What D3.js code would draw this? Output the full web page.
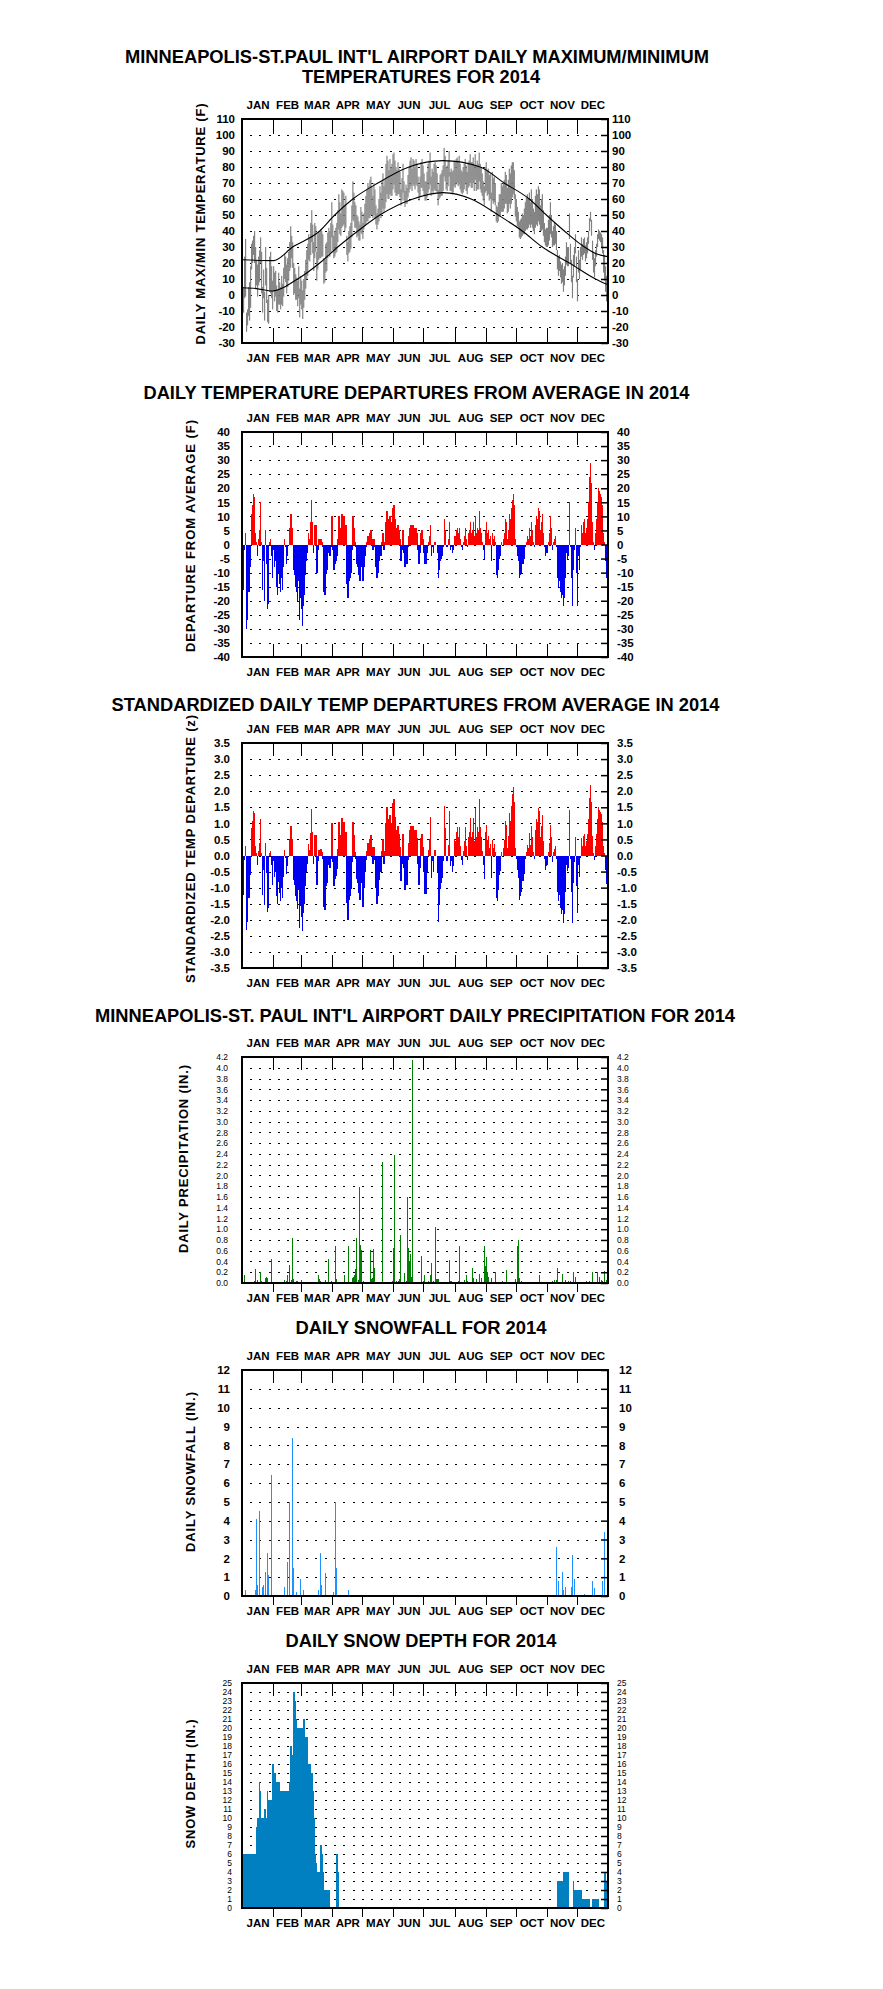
<!DOCTYPE html>
<html><head><meta charset="utf-8">
<script src="https://cdn.jsdelivr.net/npm/d3@7"></script>
<style>
body{margin:0;background:#fff;}
svg text{font-family:"Liberation Sans",Arial,Helvetica,sans-serif;}
</style></head><body>
<svg id="chart" width="883" height="1989" style="background:#fff"></svg>
<script>
// ---------------- DATA ----------------
const months = ["JAN","FEB","MAR","APR","MAY","JUN","JUL","AUG","SEP","OCT","NOV","DEC"];
const monthStart = [0,31,59,90,120,151,181,212,243,273,304,334,365];

// daily maximum / minimum temperature (F)
const tmax = [
 2,5,24,35,-11,-9,5,8,18,32,34,37,40,30,22,19,24,28,36,27,5,16,2,30,17,-3,0,24,27,18,9,
 18,14,15,6,3,14,8,5,12,7,17,26,24,19,23,27,33,43,37,33,20,17,13,11,9,18,4,12,
 9,3,10,15,22,28,32,38,35,45,53,44,33,45,43,27,38,40,39,41,40,38,23,22,32,33,39,42,40,45,58,
 44,37,40,42,45,53,63,58,51,66,65,64,56,62,37,33,40,43,45,56,71,64,58,56,50,49,46,44,55,52,
 45,51,57,62,66,70,68,72,74,68,62,70,66,56,51,54,60,68,64,71,76,68,72,82,87,84,78,85,80,82,88,
 89,84,80,78,83,79,77,66,73,82,71,65,69,67,75,80,84,86,79,85,84,80,85,82,74,69,74,83,85,81,
 76,71,71,77,82,84,89,74,79,77,82,83,81,76,66,70,75,76,78,81,92,87,80,81,84,90,77,79,77,78,84,
 83,85,86,84,87,82,78,77,80,82,85,81,77,83,84,88,83,83,86,81,88,81,84,82,89,82,80,76,71,68,80,
 83,78,79,75,76,64,77,73,74,70,56,55,58,63,63,70,68,70,72,77,75,67,72,79,76,81,83,83,78,63,
 60,55,52,46,47,48,51,50,54,58,61,63,60,64,58,66,60,54,52,62,66,63,68,66,56,60,63,53,45,41,42,
 42,47,50,58,50,40,43,45,44,40,28,24,25,21,19,20,16,18,24,33,30,30,51,32,22,12,25,30,38,24,
 10,28,22,30,36,32,35,36,31,33,36,40,48,52,47,34,26,23,28,32,38,41,40,39,38,36,28,25,18,12,4
];
const tmin = [
 -12,-11,-2,-1,-23,-19,-13,-16,-8,16,20,25,20,4,6,-1,6,8,20,1,-11,-2,-16,6,-5,-17,-18,2,1,-2,-9,
 2,-4,-1,-10,-11,-6,-6,-9,-6,-7,-1,10,8,1,5,9,15,17,23,17,0,1,-3,-3,-7,-2,-14,-6,
 -9,-15,-8,-3,4,10,12,22,21,25,33,26,15,23,27,9,16,22,23,23,24,24,7,8,14,15,23,26,24,27,36,
 28,23,24,26,27,33,41,38,37,42,43,44,40,42,25,21,26,27,29,36,47,46,42,42,36,37,34,34,39,38,
 35,41,43,44,46,46,48,48,50,50,48,50,48,44,41,44,46,50,48,51,54,52,54,58,63,60,60,63,62,62,66,
 69,64,62,62,63,63,61,56,59,64,59,55,57,57,61,64,66,68,65,69,68,66,69,68,64,59,62,67,67,65,
 62,59,59,61,64,66,69,62,65,63,66,65,65,64,56,60,61,62,62,65,74,71,66,65,68,74,65,65,63,64,68,
 67,69,70,68,69,66,64,63,64,66,69,65,63,67,68,70,67,67,70,65,72,65,66,66,71,66,64,62,59,56,64,
 65,62,63,59,60,52,59,57,58,56,46,45,46,49,49,52,52,52,54,57,57,51,52,57,54,57,61,63,60,49,
 46,43,42,36,35,36,37,38,38,40,41,41,42,44,42,44,42,40,38,42,44,43,46,44,40,40,41,37,33,31,30,
 30,31,34,38,36,30,31,31,32,28,16,12,15,11,7,8,2,6,12,19,18,18,35,20,8,-2,11,18,26,8,
 -4,14,10,16,24,22,25,26,21,23,26,32,40,46,37,22,14,11,18,24,30,35,34,33,30,26,14,9,2,-4,-8
];
// normal max / min curves, read as (day, value) points
const normMaxDay = [0,31,50,77,92,110,135,166,200,237,261,286,303,321,341,352,364];
const normMaxVal = [22,21.5,30,40,50,60,70,80,84,80,70,60,50,40,30,26,24];
const normMinDay = [0,14,30,55,77,95,115,137,170,200,228,255,279,299,326,352,364];
const normMinVal = [4.5,4,2.5,10,20,30,40,50,60,64,60,50,40,30,20,10,6.5];

// daily departure from average (F)
const departure = [
 -18,-16,-2,4,-30,-27,-17,-17,-8,11,14,18,17,4,1,-4,2,5,15,1,-16,-6,-20,5,-7,-23,-21,1,2,-4,-12,
 -2,-8,-6,-15,-18,-10,-14,-17,-12,-16,-8,2,-1,-7,-4,0,6,11,11,6,-9,-11,-15,-17,-20,-13,-27,-19,
 -23,-29,-22,-18,-11,-6,-3,4,2,8,16,8,-3,7,7,-10,-2,2,2,2,1,-1,-17,-18,-10,-9,-3,-1,-4,-1,10,
 -2,-9,-7,-6,-4,2,10,6,1,11,10,10,3,7,-14,-19,-13,-12,-10,-2,10,6,1,-1,-7,-8,-11,-13,-5,-8,
 -13,-8,-4,-1,1,3,2,4,5,2,-2,2,-1,-8,-12,-10,-6,-1,-4,1,4,-2,1,8,12,9,5,10,6,8,13,
 14,9,6,4,7,5,2,-6,-2,5,-3,-8,-5,-7,-1,3,6,7,2,7,6,3,6,4,-2,-7,-3,4,5,2,
 -3,-7,-7,-3,1,3,7,-4,-1,-3,1,1,0,-3,-12,-9,-6,-5,-4,-1,9,5,-1,-1,2,8,-2,-1,-3,-2,3,
 3,5,6,4,6,2,-1,-2,1,3,6,2,-1,4,5,8,4,5,8,3,10,4,6,5,12,6,4,1,-2,-5,5,
 8,4,5,2,3,-6,4,2,3,1,-11,-12,-9,-5,-4,1,0,2,4,9,8,2,5,11,9,13,16,18,14,2,
 -1,-4,-6,-12,-11,-10,-7,-7,-5,-1,1,3,2,6,3,8,5,1,-1,7,10,9,13,12,5,8,11,4,-1,-4,-3,
 -3,1,4,10,6,-2,1,2,3,-1,-12,-15,-13,-17,-19,-18,-22,-19,-12,-3,-5,-4,15,-1,-12,-22,-9,-2,6,-10,
 -22,-4,-9,-1,7,4,8,9,4,6,9,15,24,29,22,8,1,-2,4,9,15,20,19,18,17,14,4,1,-6,-12,-17
];
// standardized daily departure (z)
const zDeparture = [
 -1.38,-1.23,-0.15,0.31,-2.31,-2.08,-1.31,-1.31,-0.62,0.85,1.08,1.38,1.31,0.31,0.08,-0.31,0.15,0.38,1.15,0.08,-1.23,-0.46,-1.54,0.38,-0.54,-1.77,-1.62,0.08,0.15,-0.31,-0.92,
 -0.17,-0.67,-0.5,-1.25,-1.5,-0.83,-1.17,-1.42,-1.0,-1.33,-0.67,0.17,-0.08,-0.58,-0.33,0,0.5,0.92,0.92,0.5,-0.75,-0.92,-1.25,-1.42,-1.67,-1.08,-2.25,-1.58,
 -1.9,-2.36,-1.8,-1.5,-0.95,-0.52,-0.26,0.35,0.18,0.7,1.45,0.73,-0.27,0.64,0.64,-0.91,-0.18,0.18,0.18,0.19,0.1,-0.1,-1.6,-1.7,-0.95,-0.86,-0.29,-0.1,-0.4,-0.1,1.0,
 -0.21,-0.95,-0.74,-0.63,-0.42,0.21,1.05,0.63,0.11,1.16,1.05,1.05,0.32,0.74,-1.47,-2.0,-1.37,-1.26,-1.05,-0.21,1.05,0.63,0.11,-0.11,-0.74,-0.84,-1.16,-1.37,-0.53,-0.84,
 -1.6,-1.0,-0.5,-0.13,0.13,0.38,0.25,0.5,0.63,0.25,-0.25,0.25,-0.13,-1.0,-1.5,-1.25,-0.75,-0.13,-0.5,0.13,0.5,-0.25,0.13,1.0,1.5,1.13,0.63,1.25,0.75,1.0,1.63,
 1.75,1.2,0.8,0.53,0.93,0.67,0.27,-0.8,-0.27,0.67,-0.4,-1.07,-0.67,-0.93,-0.13,0.4,0.8,0.93,0.27,0.93,0.8,0.4,0.8,0.53,-0.27,-0.93,-0.4,0.53,0.67,0.27,
 -0.52,-1.2,-1.2,-0.52,0.17,0.52,1.2,-0.69,-0.17,-0.52,0.17,0.17,0,-0.52,-2.07,-1.55,-1.03,-0.86,-0.69,-0.17,1.55,0.86,-0.17,-0.17,0.34,1.38,-0.34,-0.17,-0.52,-0.34,0.52,
 0.44,0.74,0.88,0.59,0.88,0.29,-0.15,-0.29,0.15,0.44,0.88,0.29,-0.15,0.59,0.74,1.18,0.59,0.74,1.18,0.44,1.47,0.59,0.88,0.74,1.76,0.88,0.59,0.15,-0.29,-0.74,0.74,
 0.95,0.48,0.6,0.24,0.36,-0.71,0.48,0.24,0.36,0.12,-1.31,-1.43,-1.07,-0.6,-0.48,0.12,0,0.24,0.48,1.07,0.95,0.24,0.6,1.31,1.07,1.55,1.9,2.14,1.67,0.24,
 -0.11,-0.46,-0.69,-1.38,-1.26,-1.15,-0.8,-0.8,-0.57,-0.11,0.11,0.34,0.23,0.69,0.34,0.92,0.57,0.11,-0.11,0.8,1.15,1.03,1.49,1.38,0.57,0.92,1.26,0.46,-0.11,-0.46,-0.34,
 -0.29,0.1,0.38,0.95,0.57,-0.19,0.1,0.19,0.29,-0.1,-1.14,-1.43,-1.24,-1.62,-1.81,-1.71,-2.1,-1.81,-1.14,-0.29,-0.48,-0.38,1.43,-0.1,-1.14,-2.1,-0.86,-0.19,0.57,-0.95,
 -1.8,-0.3,-0.68,-0.08,0.53,0.3,0.6,0.68,0.3,0.45,0.68,1.13,1.8,2.18,1.65,0.6,0.08,-0.15,0.3,0.68,1.13,1.5,1.43,1.35,1.28,1.05,0.3,0.08,-0.45,-0.9,-1.28
];
// daily precipitation (in.), days with a measurable or trace amount
const precipDay = [2,3,5,7,10,12,13,15,16,18,19,20,23,24,25,27,29,34,36,39,42,44,45,47,49,50,51,54,55,57,59,61,65,68,72,76,77,78,80,83,86,89,93,94,98,102,106,110,111,112,113,114,116,117,118,119,121,126,128,129,130,131,132,140,147,150,151,152,154,156,157,158,162,164,165,166,167,168,169,170,173,179,181,182,183,185,187,188,190,192,193,194,195,206,207,208,215,216,221,223,224,229,230,233,236,238,241,242,243,244,245,248,252,259,263,272,274,275,276,278,296,307,309,311,313,314,317,319,322,325,327,330,332,336,343,346,349,352,354,356,358,359,361,363];
const precipIn = [0.14,0.02,0.02,0.01,0.02,0.04,0.26,0.06,0.02,0.2,0.03,0.02,0.1,0.11,0.1,0.01,0.45,0.01,0.02,0.01,0.05,0.03,0.14,0.33,0.06,0.84,0.08,0.03,0.03,0.02,0.06,0.02,0.01,0.02,0.01,0.15,0.08,0.04,0.02,0.06,0.45,0.03,0.69,0.08,0.02,0.15,0.69,0.09,0.12,0.15,0.26,0.84,0.05,1.78,0.71,0.62,0.04,0.02,0.62,0.08,0.1,0.63,0.28,2.25,0.02,0.03,0.65,2.38,0.03,0.04,0.08,0.9,0.19,0.03,1.6,0.65,0.4,0.53,0.12,4.14,0.01,0.51,0.03,0.15,0.02,0.03,0.14,0.38,0.03,1.05,0.07,0.07,0.07,0.43,0.04,0.04,0.03,0.68,0.05,0.15,0.04,0.28,0.1,0.08,0.17,0.1,0.69,0.31,0.48,0.2,0.12,0.1,0.2,0.03,0.25,0.08,0.69,0.8,0.1,0.03,0.15,0.02,0.04,0.05,0.05,0.28,0.02,0.17,0.06,0.04,0.03,0.2,0.11,0.01,0.03,0.03,0.2,0.02,0.2,0.12,0.05,0.04,0.22,0.05];
// daily snowfall (in.)
const snowDay = [3,4,5,13,14,15,17,20,21,23,25,26,29,37,42,45,47,50,51,54,58,60,61,76,78,79,83,91,93,94,106,119,300,313,315,319,320,322,328,329,331,341,349,351,354,359,361];
const snowIn = [0.3,0.05,0.05,0.3,4.1,0.6,4.5,0.5,0.6,1.3,2.3,1.1,6.4,0.05,0.5,1.8,5.0,8.4,1.5,0.2,0.9,0.05,0.3,0.3,2.3,0.6,1.2,0.2,5.0,1.5,0.3,0.05,0.05,2.6,0.8,1.3,0.3,0.5,0.5,2.2,0.9,0.1,0.8,0.4,0.05,0.8,3.4];
// daily snow depth (in.)
const snowDepth = [
 6,6,6,6,6,6,6,6,6,6,6,6,6,6,9,10,10,14,13,10,10,10,11,11,10,13,12,12,12,12,16,
 16,15,15,14,14,14,13,13,13,13,13,13,13,13,13,13,14,18,17,16,24,23,21,20,20,20,20,20,
 20,20,21,19,19,19,16,16,16,15,15,13,10,6,5,4,4,4,4,7,6,4,2,2,2,2,2,2,0,0,0,
 0,0,0,0,6,4,0,0,0,0,0,0,0,0,0,0,0,0,0,0,0,0,0,0,0,0,0,0,0,0,
 0,0,0,0,0,0,0,0,0,0,0,0,0,0,0,0,0,0,0,0,0,0,0,0,0,0,0,0,0,0,0,
 0,0,0,0,0,0,0,0,0,0,0,0,0,0,0,0,0,0,0,0,0,0,0,0,0,0,0,0,0,0,
 0,0,0,0,0,0,0,0,0,0,0,0,0,0,0,0,0,0,0,0,0,0,0,0,0,0,0,0,0,0,0,
 0,0,0,0,0,0,0,0,0,0,0,0,0,0,0,0,0,0,0,0,0,0,0,0,0,0,0,0,0,0,0,
 0,0,0,0,0,0,0,0,0,0,0,0,0,0,0,0,0,0,0,0,0,0,0,0,0,0,0,0,0,0,
 0,0,0,0,0,0,0,0,0,0,0,0,0,0,0,0,0,0,0,0,0,0,0,0,0,0,0,0,0,0,0,
 0,0,0,0,0,0,0,0,0,0,3,3,3,3,3,3,4,4,4,4,4,4,0,0,0,0,3,2,2,2,
 2,2,2,2,2,1,1,1,1,1,1,1,1,0,0,1,1,1,1,1,1,1,0,0,0,0,0,4,4,3,3
];
// tick labels
const tempTicks = [-30,-20,-10,0,10,20,30,40,50,60,70,80,90,100,110];
const depTicks = [-40,-35,-30,-25,-20,-15,-10,-5,0,5,10,15,20,25,30,35,40];
const zTicks = [-3.5,-3.0,-2.5,-2.0,-1.5,-1.0,-0.5,0,0.5,1.0,1.5,2.0,2.5,3.0,3.5];
const precipTicks = [0,0.2,0.4,0.6,0.8,1.0,1.2,1.4,1.6,1.8,2.0,2.2,2.4,2.6,2.8,3.0,3.2,3.4,3.6,3.8,4.0,4.2];
const snowTicks = [0,1,2,3,4,5,6,7,8,9,10,11,12];
const depthTicks = [0,1,2,3,4,5,6,7,8,9,10,11,12,13,14,15,16,17,18,19,20,21,22,23,24,25];

// ---------------- DRAWING ----------------
const svg = d3.select("#chart");
const L = 242, R = 608;
const x = d3.scaleLinear().domain([0, 365]).range([L, R]);
const dayW = x(1) - x(0);
const monthMid = months.map((m, i) => (monthStart[i] + monthStart[i + 1]) / 2);
const FONT = '"Liberation Sans", Arial, Helvetica, sans-serif';

[["tmax",tmax],["tmin",tmin],["departure",departure],["z",zDeparture],["depth",snowDepth]].forEach(([n,a],i)=>{
  if (a.length !== 365) svg.append("text").attr("x",10).attr("y",20+14*i).attr("fill","red").text(n+" length "+a.length);
});

const titles = [
  {text:"MINNEAPOLIS-ST.PAUL INT'L AIRPORT DAILY MAXIMUM/MINIMUM", x:125, y:63, w:584},
  {text:"TEMPERATURES FOR 2014", x:302, y:83, w:238},
  {text:"DAILY TEMPERATURE DEPARTURES FROM AVERAGE IN 2014", x:143.5, y:399, w:546},
  {text:"STANDARDIZED DAILY TEMP DEPARTURES FROM AVERAGE IN 2014", x:111.5, y:711, w:608},
  {text:"MINNEAPOLIS-ST. PAUL INT'L AIRPORT DAILY PRECIPITATION FOR 2014", x:95, y:1022, w:640},
  {text:"DAILY SNOWFALL FOR 2014", x:295.5, y:1334, w:251},
  {text:"DAILY SNOW DEPTH FOR 2014", x:285.5, y:1647, w:271}
];
titles.forEach(t => svg.append("text").attr("x", t.x).attr("y", t.y)
  .attr("font-size", 18).attr("font-weight", "bold").attr("fill", "#000")
  .attr("textLength", t.w).attr("lengthAdjust", "spacingAndGlyphs").text(t.text));

const fmtInt = t => String(t);
const fmt1 = t => t.toFixed(1);

const panels = [
  {top:119, bottom:343, domain:[-30,110], ticks:tempTicks, fmt:fmtInt, small:false, tickLen:15, outside:false, lpad:7, rpad:4,
   ytitle:"DAILY MAX/MIN TEMPERATURE (F)", yx:200, yc:224, yl:241, draw:drawTemp},
  {top:432, bottom:657, domain:[-40,40], ticks:depTicks, fmt:fmtInt, small:false, tickLen:13, outside:false, lpad:12, rpad:9,
   ytitle:"DEPARTURE FROM AVERAGE (F)", yx:190, yc:536, yl:232, draw:(g,y)=>drawDep(g,y,departure)},
  {top:743, bottom:968, domain:[-3.5,3.5], ticks:zTicks, fmt:fmt1, small:false, tickLen:13, outside:false, lpad:12, rpad:9,
   ytitle:"STANDARDIZED TEMP DEPARTURE (z)", yx:190, yc:849, yl:268, draw:(g,y)=>drawDep(g,y,zDeparture)},
  {top:1057, bottom:1283, domain:[0,4.2], ticks:precipTicks, fmt:fmt1, small:true, tickLen:13, outside:true, lpad:14, rpad:9,
   ytitle:"DAILY PRECIPITATION (IN.)", yx:183, yc:1159, yl:188, draw:(g,y)=>drawSpikes(g,y,precipDay,precipIn,"#008000")},
  {top:1370, bottom:1596, domain:[0,12], ticks:snowTicks, fmt:fmtInt, small:false, tickLen:13, outside:true, lpad:12, rpad:11,
   ytitle:"DAILY SNOWFALL (IN.)", yx:190, yc:1472, yl:160, draw:(g,y)=>drawSpikes(g,y,snowDay,snowIn,"#1E90FF")},
  {top:1683, bottom:1908, domain:[0,25], ticks:depthTicks, fmt:fmtInt, small:true, tickLen:13, outside:true, lpad:10, rpad:9,
   ytitle:"SNOW DEPTH (IN.)", yx:190, yc:1784, yl:129, draw:drawDepth}
];

function drawTemp(g, y) {
  const days = tmax.map((hi, i) => ({day: i, hi: hi, lo: tmin[i]}));
  g.append("g").selectAll("rect").data(days).join("rect")
    .attr("x", d => x(d.day)).attr("width", 1.15)
    .attr("y", d => y(d.hi)).attr("height", d => Math.max(1, y(d.lo) - y(d.hi)))
    .attr("fill", "#808080");
  const line = d3.line().x(d => x(d[0] + 0.5)).y(d => y(d[1])).curve(d3.curveMonotoneX);
  g.append("path").attr("d", line(normMaxDay.map((d, i) => [d, normMaxVal[i]])))
    .attr("fill", "none").attr("stroke", "#000").attr("stroke-width", 1.1);
  g.append("path").attr("d", line(normMinDay.map((d, i) => [d, normMinVal[i]])))
    .attr("fill", "none").attr("stroke", "#000").attr("stroke-width", 1.1);
}
function drawDep(g, y, arr) {
  const days = arr.map((v, i) => ({day: i, v: v})).filter(d => d.v !== 0);
  g.append("g").attr("shape-rendering", "crispEdges").selectAll("rect").data(days).join("rect")
    .attr("x", d => x(d.day)).attr("width", dayW + 0.3)
    .attr("y", d => Math.min(y(0), y(d.v))).attr("height", d => Math.abs(y(d.v) - y(0)))
    .attr("fill", d => d.v > 0 ? "#FF0000" : "#0000F0");
}
function drawSpikes(g, y, days, vals, color) {
  const data = days.map((d, i) => ({day: d, v: vals[i]}));
  g.append("g").attr("shape-rendering", "crispEdges").selectAll("rect").data(data).join("rect")
    .attr("x", d => x(d.day)).attr("width", 1)
    .attr("y", d => y(d.v)).attr("height", d => Math.max(1, y(0) - y(d.v)))
    .attr("fill", color);
}
function drawDepth(g, y) {
  const days = snowDepth.map((v, i) => ({day: i, v: v})).filter(d => d.v > 0);
  g.append("g").attr("shape-rendering", "crispEdges").selectAll("rect").data(days).join("rect")
    .attr("x", d => x(d.day)).attr("width", dayW + 0.4)
    .attr("y", d => y(d.v)).attr("height", d => y(0) - y(d.v))
    .attr("fill", "#0080C0");
}

function styleAxis(sel, size, bold) {
  sel.attr("font-family", FONT);
  sel.select(".domain").remove();
  sel.selectAll("text").attr("font-size", size).attr("font-weight", bold ? "bold" : "normal").attr("fill", "#000");
  sel.selectAll("line").attr("stroke", "#000").attr("stroke-width", 1.5);
}

panels.forEach(p => {
  const y = d3.scaleLinear().domain(p.domain).range([p.bottom, p.top]);
  const g = svg.append("g");
  // dotted grid
  const inner = p.ticks.filter(t => t > p.domain[0] + 1e-9 && t < p.domain[1] - 1e-9);
  g.append("g").attr("shape-rendering", "crispEdges").selectAll("line").data(inner).join("line")
    .attr("x1", L + 8).attr("x2", R - 9)
    .attr("y1", t => Math.round(y(t)) + 0.5).attr("y2", t => Math.round(y(t)) + 0.5)
    .attr("stroke", "#000").attr("stroke-width", 1).attr("stroke-dasharray", "2,7.33");
  // month boundary ticks
  const bnd = monthStart.slice(1, 12);
  const tk = g.append("g").attr("shape-rendering", "crispEdges");
  tk.selectAll("line.t").data(bnd).join("line").attr("class", "t")
    .attr("x1", d => Math.round(x(d)) + 0.5).attr("x2", d => Math.round(x(d)) + 0.5)
    .attr("y1", p.top).attr("y2", p.top + p.tickLen).attr("stroke", "#000").attr("stroke-width", 1.5);
  tk.selectAll("line.b").data(bnd).join("line").attr("class", "b")
    .attr("x1", d => Math.round(x(d)) + 0.5).attr("x2", d => Math.round(x(d)) + 0.5)
    .attr("y1", p.outside ? p.bottom : p.bottom - p.tickLen).attr("y2", p.outside ? p.bottom + 9 : p.bottom)
    .attr("stroke", "#000").attr("stroke-width", 1.5);
  // data
  p.draw(g, y);
  // frame
  g.append("rect").attr("x", L).attr("y", p.top).attr("width", R - L).attr("height", p.bottom - p.top)
    .attr("fill", "none").attr("stroke", "#000").attr("stroke-width", 2);
  // y axes
  const fs = p.small ? 8.5 : 11.5;
  const la = g.append("g").attr("transform", `translate(${L},0)`)
    .call(d3.axisLeft(y).tickValues(p.ticks).tickFormat(p.fmt).tickSize(0).tickPadding(p.lpad));
  styleAxis(la, fs, !p.small);
  const ra = g.append("g").attr("transform", `translate(${R},0)`)
    .call(d3.axisRight(y).tickValues(p.ticks).tickFormat(p.fmt).tickSizeInner(-7).tickSizeOuter(0).tickPadding(p.rpad));
  styleAxis(ra, fs, !p.small);
  // month labels
  const ta = g.append("g").attr("transform", `translate(0,${p.top})`)
    .call(d3.axisTop(x).tickValues(monthMid).tickFormat((d, i) => months[i]).tickSize(0).tickPadding(10));
  styleAxis(ta, 11.5, true);
  const ba = g.append("g").attr("transform", `translate(0,${p.bottom})`)
    .call(d3.axisBottom(x).tickValues(monthMid).tickFormat((d, i) => months[i]).tickSize(0).tickPadding(11));
  styleAxis(ba, 11.5, true);
  // y title
  g.append("text").attr("transform", `translate(${p.yx},${p.yc}) rotate(-90)`)
    .attr("text-anchor", "middle").attr("dy", "0.35em")
    .attr("font-size", 13).attr("font-weight", "bold").attr("fill", "#000")
    .attr("textLength", p.yl).attr("lengthAdjust", "spacing").text(p.ytitle);
});
</script>
</body></html>
